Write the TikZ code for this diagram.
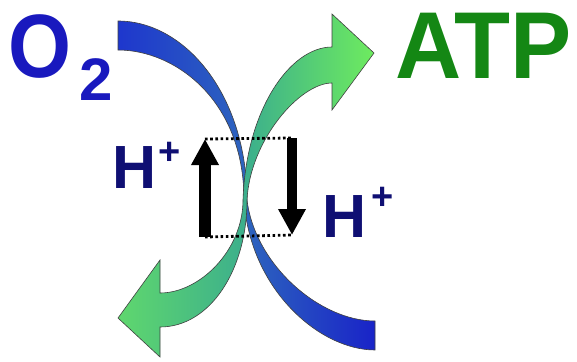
\documentclass[tikz,border=0pt]{standalone}
\usepackage{graphicx}
\usepackage{fontspec}
\setmainfont{Liberation Sans}
\usetikzlibrary{arrows.meta}

\definecolor{oxyblue}{RGB}{25,25,190}
\definecolor{atpgreen}{RGB}{20,135,20}
\definecolor{ionnavy}{RGB}{15,15,115}
\newcommand{\hion}[2]{H\hspace{#2}\raisebox{#1}{\fontsize{38}{38}\selectfont +}}

\begin{document}
\begin{tikzpicture}[x=1pt, y=-1pt,
    band/.style={draw=black!75, line width=0.6pt},
    pump/.style={line width=#1, -{Triangle[width=26pt, length=26pt]}},
    gapline/.style={line width=2.8pt, dash pattern=on 2.6pt off 2.6pt},
    ionlabel/.style={inner sep=0pt, anchor=base west}]
  \useasboundingbox (0,0) rectangle (577,361);
  \draw[band, left color={rgb,255:red,30;green,55;blue,205}, right color={rgb,255:red,25;green,35;blue,200}, middle color={rgb,255:red,45;green,100;blue,190}]
    (118,21) .. controls (185,21) and (247,95) .. (247,200)
    .. controls (255,265) and (320,321) .. (375,321) -- (375,350)
    .. controls (320,350) and (250,290) .. (244,200)
    .. controls (244,100) and (175,50) .. (118,50) -- cycle;
  \draw[band, left color={rgb,255:red,95;green,215;blue,110}, right color={rgb,255:red,110;green,235;blue,95}, middle color={rgb,255:red,60;green,175;blue,140}]
    (160,260) -- (118,318) -- (160,357) -- (160,327)
    .. controls (210,327) and (247,270) .. (247,200)
    .. controls (250,140) and (300,83) .. (332,83)
    -- (332,110) -- (374,53) -- (332,14) -- (332,47)
    .. controls (290,47) and (246,110) .. (243,200)
    .. controls (243,250) and (200,293) .. (160,293) -- cycle;
  \coordinate (upfoot) at (205,237);
  \coordinate (uptip) at (205,139);
  \coordinate (dntop) at (292,138);
  \coordinate (dntip) at (292,235);
  \draw[gapline] (uptip) -- (dntop) (upfoot) -- (dntip);
  \draw[pump=12pt] (upfoot) -- (uptip);
  \draw[pump=10pt] (dntop) -- (dntip);
  \node[ionlabel, text=oxyblue, font=\bfseries\fontsize{90}{90}\selectfont] (oxygen) at (8,77)
    {\scalebox{0.9}[1]{O}\hspace{8.6pt}\raisebox{-23pt}{\fontsize{60}{60}\selectfont 2}};
  \node[ionlabel, text=atpgreen, font=\bfseries\fontsize{95}{95}\selectfont] (atp) at (395,78) {\scalebox{0.965}[1]{ATP}};
  \node[ionlabel, text=ionnavy, font=\bfseries\fontsize{61}{61}\selectfont] (hleft) at (112.5,188) {\hion{24pt}{1.5pt}};
  \node[ionlabel, text=ionnavy, font=\bfseries\fontsize{61}{61}\selectfont] (hright) at (322.5,237) {\hion{28pt}{4.5pt}};
\end{tikzpicture}
\end{document}
